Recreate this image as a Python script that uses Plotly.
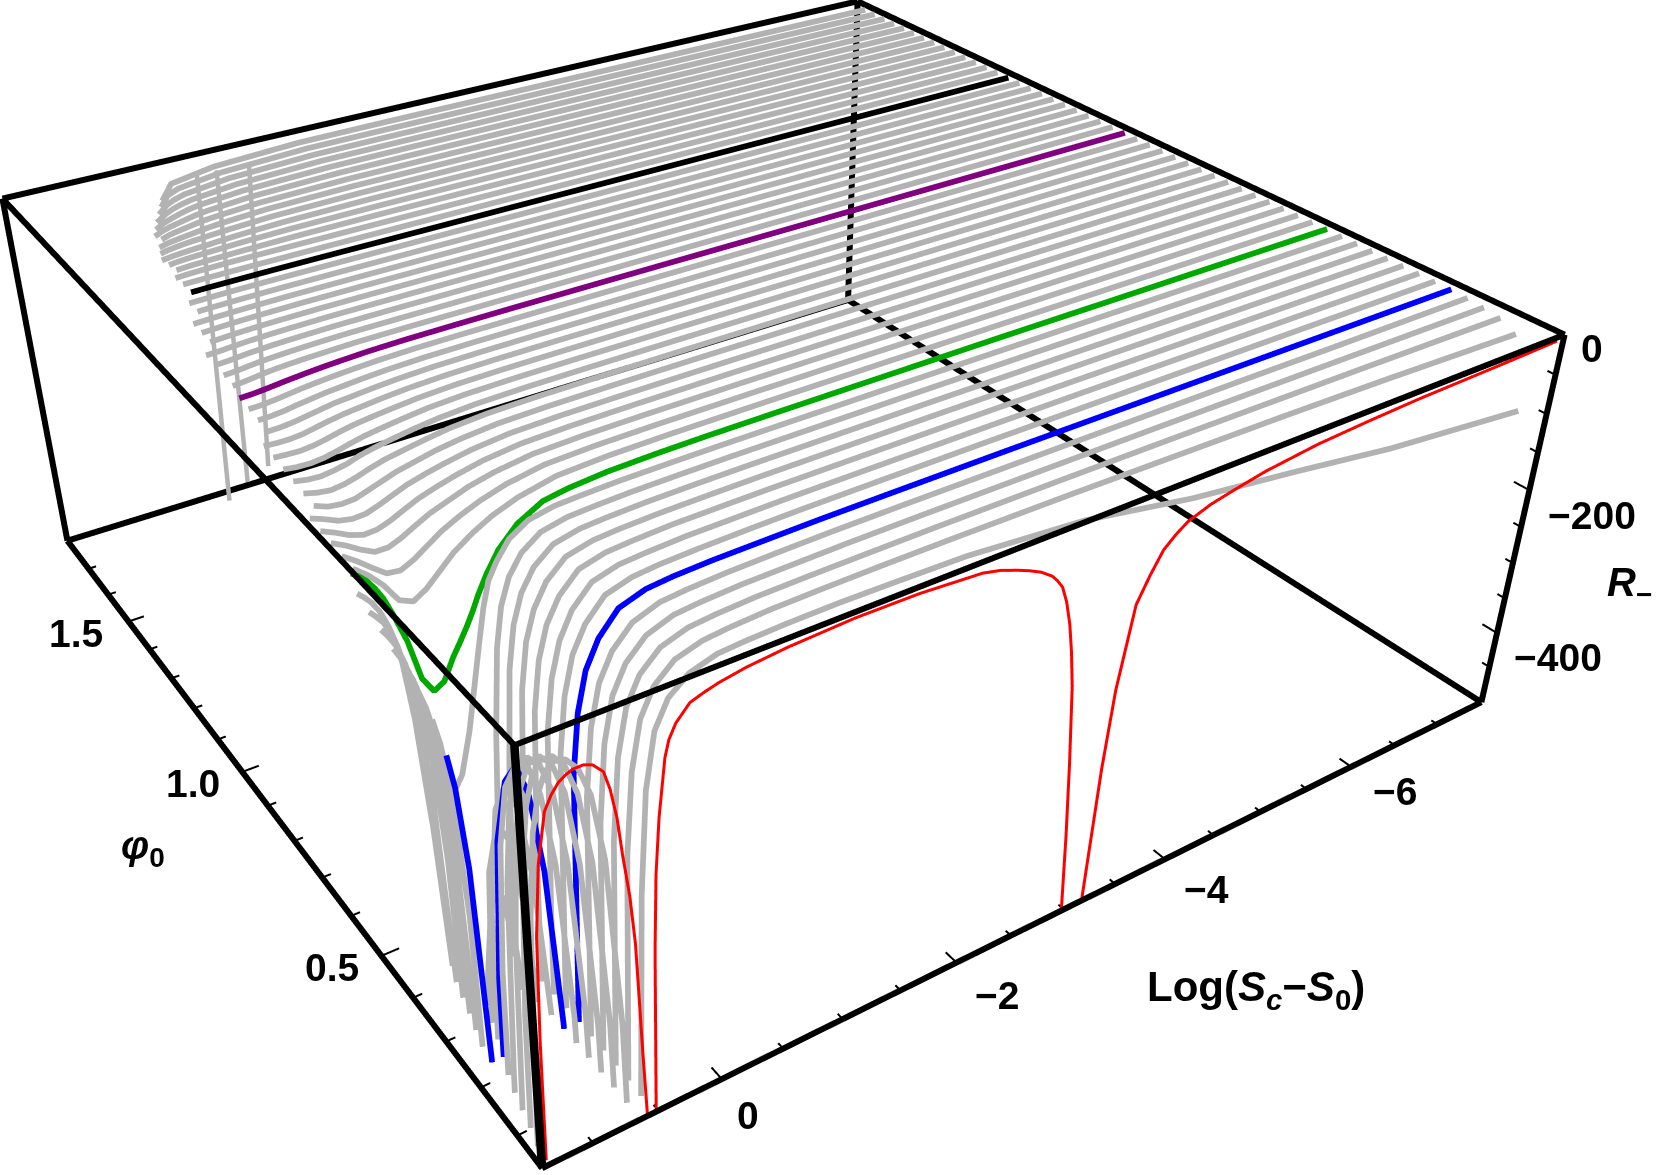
import plotly.graph_objects as go

# axis limits and view, fitted to the reference box
X_RANGE = [-7.5369, 1.3766]
PHI_RANGE = [0.0347, 1.8122]
R_RANGE = [-502.93, 0.0]
# scene ranges are a little wider than the box so its edges are not clipped
X_SCENE = [-1.4266, 7.5869]
PHI_SCENE = [0.0247, 1.8222]
R_SCENE = [-505.93, 3.0]
ASPECT = dict(x=1.01122, y=1.0068, z=0.38838)
EYE = dict(x=-0.9922, y=-1.4817, z=1.0496)
CENTER = dict(x=0.0074, y=0.0241, z=-0.0892)
UP = dict(x=0.0003, y=-0.0002, z=1.0)

# ticks
X_MINOR = [1, 0.5, -0.5, -1, -1.5, -2.5, -3, -3.5, -4.5, -5, -5.5, -6.5, -7]
X_MAJOR = [0, -2, -4, -6]
PHI_MINOR = [0.1, 0.2, 0.3, 0.4, 0.6, 0.7, 0.8, 0.9, 1.1, 1.2, 1.3, 1.4, 1.6, 1.7]
PHI_MAJOR = [0.5, 1.0, 1.5]
R_MINOR = [-50, -100, -150, -250, -300, -350, -450]
R_MAJOR = [0, -200, -400]

# red curve, the lowest phi0
RED_PHI = 0.04
RED_X = [-7.5, -7, -6.5, -6, -5.5, -5, -4.5, -4.2, -4, -3.8, -3.7, -3.6, -3.5, -3.4, -3.3, -3.25, -3.2, -3.1, -3.0, -2.97, -2.93, -2.88, -2.84, -2.8, -2.75, -2.7, -2.65, -2.6, -2.5,
         -2.4, -2.3, -2.15, -2, -1.5, -1, -0.5, -0.2, 0, 0.1, 0.2, 0.3, 0.35, 0.38, 0.43, 0.46, 0.48, 0.5, 0.53, 0.57, 0.59, 0.62, 0.65, 0.69, 0.72, 0.76, 0.8, 0.87, 0.93, 1.0, 1.05, 1.1, 1.15, 1.2, 1.26, 1.3, 1.32, 1.33]
RED_R = [-8, -10, -11.5, -13, -16, -20, -28, -36, -42, -52, -62, -75, -100, -130, -230, -330, -500, -900, -500, -400, -300, -200, -155, -120, -90, -70, -60, -52, -42,
         -35, -29, -21, -16, -11, -10, -13, -17, -22, -26, -31, -47, -62, -80, -145, -208, -300, -500, -900, -500, -420, -280, -220, -170, -125, -90, -68, -56, -52, -52, -55, -60, -70, -85, -140, -220, -345, -500]

# low phi0 curves
X_FINE = [-7.45, -6, -5, -4, -3, -2, -1.4, -1, -0.6, -0.3, -0.1, 0.1, 0.25, 0.35, 0.42, 0.47, 0.52, 0.58, 0.64, 0.72, 0.8, 0.88, 0.96, 1.04, 1.1, 1.15, 1.2, 1.25, 1.3, 1.34]
PHI_FINE = [0.0725, 0.105, 0.1375, 0.17, 0.2025, 0.235, 0.2675, 0.3, 0.3325, 0.365, 0.3975, 0.43, 0.4625, 0.495]
R_FINE = [
    [-105, -85, -65, -47, -22, -10, -8, -7, -7.5, -9, -11, -20, -38, -68, -130, -250, -520, -900, -400, -190, -110, -75, -60, -57, -65, -85, -125, -220, -480, -900],
    [-18, -12, -9, -7, -5, -4, -4, -4.5, -5.5, -8, -11, -20, -40, -70, -125, -220, -520, -900, -420, -210, -125, -88, -72, -72, -85, -115, -180, -360, -900],
    [-8, -6, -5, -4, -3.5, -3.5, -4, -4.5, -5.5, -8, -11, -21, -42, -72, -125, -220, -520, -900, -440, -230, -140, -102, -88, -92, -115, -165, -290, -600],
    [-5, -4, -3.5, -3, -3, -3, -3.5, -4.5, -5.5, -8, -11, -22, -44, -74, -125, -215, -520, -900, -450, -245, -155, -118, -105, -115, -150, -240, -480, -900],
    [-3, -3, -2.5, -2.5, -2.5, -2.5, -3, -4, -5.5, -8, -11, -22, -45, -75, -122, -200, -510, -900, -470, -265, -175, -135, -130, -150, -215, -370, -900],
    [-2, -2, -2, -2, -2, -2.5, -3, -4, -5, -7, -10, -20, -45, -75, -120, -190, -500, -900, -500, -290, -190, -152, -165, -230, -400, -900, -500, -250, -150, -110],
    [-1.5, -1.5, -1.5, -1.5, -1.5, -2, -2.5, -3.5, -5, -7, -10, -19, -43, -72, -115, -180, -450, -900, -520, -320, -225, -190, -215, -340, -750, -900, -330, -180, -115, -85],
    [-1.2, -1.2, -1.2, -1.2, -1.5, -2, -2.5, -3.5, -4.5, -7, -9.5, -18, -41, -70, -110, -170, -400, -900, -560, -370, -280, -255, -310, -560, -900, -480, -210, -130, -90, -70],
    [-1, -1, -1, -1, -1.2, -1.8, -2.2, -3, -4, -6.5, -9, -17, -39, -66, -103, -160, -340, -800, -620, -450, -370, -365, -480, -900, -560, -260, -150, -100, -72, -58],
    [-0.8, -0.8, -0.8, -0.8, -1, -1.6, -2, -2.8, -4, -6, -8.5, -16, -36, -62, -96, -150, -300, -650, -720, -590, -510, -530, -800, -800, -320, -175, -115, -82, -62, -50],
    [-0.7, -0.7, -0.7, -0.7, -0.9, -1.5, -1.9, -2.6, -3.8, -5.8, -8, -15, -33, -57, -90, -140, -260, -520, -900, -900, -900, -900, -900, -520, -240, -135, -90, -66, -52, -43],
    [-0.6, -0.6, -0.6, -0.6, -0.8, -1.4, -1.8, -2.5, -3.6, -5.5, -7.5, -14, -30, -52, -82, -128, -230, -420, -700, -800, -850, -820, -620, -320, -175, -105, -72, -54, -44, -37],
    [-0.5, -0.5, -0.5, -0.6, -0.8, -1.3, -1.7, -2.4, -3.4, -5.3, -7, -13, -27, -47, -66, -95, -135, -185, -235, -285, -305, -290, -230, -150, -105, -78, -58, -45, -36, -30],
    [-0.4, -0.4, -0.5, -0.5, -1, -1.5, -2, -3, -5, -9, -14, -30, -52, -75, -95, -112, -127, -143, -158, -183, -190, -170, -120, -85, -62, -48, -37, -29, -23],
]

# middle curves, a shallow valley near x = 0.85
X_MID = [-7.45, -5, -3, -2, -1.2, -0.7, -0.3, 0, 0.2, 0.35, 0.5, 0.62, 0.72, 0.82, 0.92, 1.02, 1.12, 1.22]
PHI_MID = [0.5275, 0.56, 0.5925, 0.625, 0.6575, 0.69, 0.7225, 0.755, 0.7875, 0.82, 0.8525, 0.885, 0.9175, 0.95, 0.9825]
R_MID = [
    [-0.4, -0.4, -0.7, -1.2, -2, -3.5, -7, -17, -28, -40, -55, -72, -86, -95, -88, -65, -48, -35],
    [-0.4, -0.4, -0.6, -1.1, -1.9, -3.2, -6, -14, -23, -32, -43, -55, -65, -72, -70, -58, -45, -34],
    [-0.3, -0.4, -0.6, -1, -1.8, -3, -5.5, -12, -19, -27, -35, -44, -52, -58, -58, -50, -40, -32],
    [-0.3, -0.3, -0.5, -0.9, -1.7, -2.8, -5, -10.5, -17, -23, -30, -38, -45, -50, -51, -46, -38, -31],
    [-0.3, -0.3, -0.5, -0.9, -1.6, -2.6, -4.6, -9.5, -15, -20, -26, -33, -39, -44, -45, -42, -35, -29],
    [-0.3, -0.3, -0.5, -0.8, -1.5, -2.4, -4.2, -8.5, -13, -18, -23, -29, -34, -39, -40, -38, -32],
    [-0.2, -0.3, -0.4, -0.8, -1.4, -2.2, -3.9, -7.5, -12, -16, -20, -25, -30, -34, -36, -34, -30],
    [-0.2, -0.2, -0.4, -0.7, -1.3, -2, -3.6, -6.8, -10.5, -14, -18, -22, -27, -30, -32, -31, -28],
    [-0.2, -0.2, -0.4, -0.7, -1.2, -1.9, -3.3, -6, -9.5, -12.5, -16, -20, -24, -27, -28.5, -28, -26],
    [-0.2, -0.2, -0.3, -0.6, -1.1, -1.7, -3, -5.5, -8.5, -11, -14, -17.5, -21, -24, -25.5, -25, -24],
    [-0.2, -0.2, -0.3, -0.6, -1, -1.6, -2.8, -5, -7.5, -10, -12.5, -15.5, -18.5, -21.5, -23, -23, -22],
    [-0.1, -0.2, -0.3, -0.5, -0.9, -1.5, -2.5, -4.5, -6.8, -9, -11, -14, -16.5, -19, -20.5, -21],
    [-0.1, -0.1, -0.3, -0.5, -0.9, -1.4, -2.3, -4, -6, -8, -10, -12.5, -14.5, -17, -18.5, -19],
    [-0.1, -0.1, -0.2, -0.4, -0.8, -1.3, -2.1, -3.6, -5.4, -7, -9, -11, -13, -15, -16.5, -17],
    [-0.1, -0.1, -0.2, -0.4, -0.7, -1.2, -1.9, -3.2, -4.8, -6.2, -8, -9.7, -11.3, -13, -14.3, -15],
]

# high phi0 curves, nearly flat, each stops earlier than the one before
X_HIGH = [-7.45, -4, -2, -1.2, -0.4, 0, 0.1, 0.17, 0.25, 0.33, 0.4, 0.47, 0.55, 0.6, 0.65, 0.72, 0.8, 0.9, 1.0]
PHI_HIGH = [1.015, 1.0475, 1.08, 1.1125, 1.145, 1.1775, 1.21, 1.2425, 1.275, 1.3075, 1.34, 1.3725, 1.405, 1.4375, 1.47, 1.5025, 1.535, 1.5675, 1.6, 1.6325, 1.665, 1.6975, 1.73, 1.7625]
R_HIGH = [
    [-0.1, -0.1, -0.3, -0.5, -1, -1.7, -2.1, -2.5, -3, -3.4, -3.8, -4.3, -5, -5.5, -6, -7, -8.5, -10.5, -12],
    [-0.1, -0.1, -0.2, -0.4, -0.9, -1.5, -1.8, -2.1, -2.5, -2.9, -3.3, -3.8, -4.4, -4.8, -5.3, -6, -7.3, -9, -10],
    [-0.1, -0.1, -0.2, -0.4, -0.8, -1.3, -1.6, -1.9, -2.2, -2.5, -2.8, -3.2, -3.7, -4.1, -4.5, -5.2, -6.2, -7.7, -8.5],
    [-0.1, -0.1, -0.2, -0.3, -0.7, -1.1, -1.4, -1.6, -1.9, -2.1, -2.4, -2.7, -3.2, -3.5, -3.8, -4.4, -5.2, -6.4, -7],
    [-0.1, -0.1, -0.2, -0.3, -0.6, -1, -1.2, -1.4, -1.6, -1.8, -2.1, -2.3, -2.7, -3, -3.3, -3.8, -4.5, -5.4],
    [-0.1, -0.1, -0.2, -0.3, -0.5, -0.9, -1, -1.2, -1.4, -1.6, -1.8, -2, -2.3, -2.5, -2.8, -3.2, -3.8, -4.5],
    [-0.1, -0.1, -0.1, -0.2, -0.5, -0.8, -0.9, -1, -1.2, -1.4, -1.5, -1.7, -2, -2.2, -2.4, -2.7, -3.2, -3.8],
    [-0.1, -0.1, -0.1, -0.2, -0.4, -0.7, -0.8, -0.9, -1, -1.2, -1.3, -1.5, -1.7, -1.9, -2, -2.3, -2.7],
    [-0.1, -0.1, -0.1, -0.2, -0.4, -0.6, -0.7, -0.8, -0.9, -1, -1.1, -1.2, -1.4, -1.6, -1.7, -2, -2.3],
    [-0.1, -0.1, -0.1, -0.2, -0.3, -0.5, -0.6, -0.7, -0.8, -0.9, -1, -1.1, -1.2, -1.3, -1.5, -1.7],
    [-0.1, -0.1, -0.1, -0.2, -0.3, -0.5, -0.5, -0.6, -0.7, -0.8, -0.9, -1, -1.1, -1.2, -1.3, -1.5],
    [-0.1, -0.1, -0.1, -0.2, -0.4, -0.6, -0.7, -0.8, -0.9, -1.1, -1.3, -1.5, -1.9, -2.2, -2.6, -3.2],
    [-0.1, -0.1, -0.2, -0.3, -1, -2, -2.3, -2.6, -3, -3.3, -3.6, -4, -4.5, -5, -5.5],
    [-0.1, -0.1, -0.3, -0.5, -1.6, -3, -3.6, -4, -4.5, -5, -5.5, -6, -6.8, -7.5, -8.5],
    [-0.1, -0.1, -0.3, -0.6, -2.2, -4.5, -5.5, -6, -7, -7.6, -8.2, -9, -10, -11, -12],
    [-0.1, -0.1, -0.3, -0.7, -2.6, -5.5, -6.5, -7.2, -8.2, -9, -10, -11.2, -13, -15],
    [-0.1, -0.1, -0.4, -0.7, -3, -6.5, -7.8, -9, -10.5, -12, -13.5, -15, -18],
    [-0.1, -0.2, -0.4, -0.8, -3.5, -7.5, -9, -10.5, -12.5, -14.5, -16.5, -20],
    [-0.1, -0.2, -0.4, -0.8, -4, -8.5, -10.5, -12.5, -15, -17.5, -20.5, -25],
    [-0.1, -0.2, -0.4, -0.9, -4.5, -9.5, -12, -14.5, -18, -22, -28],
    [-0.1, -0.2, -0.5, -0.9, -5, -11, -14, -17, -22, -30],
    [-0.1, -0.2, -0.5, -1, -5.5, -12.5, -16.5, -21, -31],
    [-0.1, -0.2, -0.5, -1, -6, -14, -20, -33],
    [-0.1, -0.2, -0.5, -1, -6.5, -16, -36],
]

# the three long drops near the far left
SPIKE_PHI = 1.74
SPIKE_X = [[-0.2, -0.08], [-0.38, -0.28], [-0.68, -0.5]]
SPIKE_R = [[-5, -485], [-5, -465], [-5, -450]]

COLORS = {0.235: "#0000ff", 0.495: "#00a800", 0.9825: "#800080", 1.3075: "#000000"}
GRAY = "#b2b2b2"
FONT = "Liberation Sans"

fig = go.Figure()


def line3d(xs, phis, rs, color, width):
    # the plot axis runs along -Log so that the view is right handed
    us = [None if x is None else -x for x in xs]
    fig.add_trace(go.Scatter3d(x=us, y=phis, z=rs, mode="lines", line=dict(color=color, width=width),
                               hoverinfo="skip", showlegend=False))


for grid, phis, rows in [(X_HIGH, PHI_HIGH, R_HIGH), (X_MID, PHI_MID, R_MID), (X_FINE, PHI_FINE, R_FINE)]:
    for phi, row in zip(phis, rows):
        line3d(grid[:len(row)], [phi] * len(row), row, COLORS.get(phi, GRAY), 11.5)

for sx, sr in zip(SPIKE_X, SPIKE_R):
    line3d(sx, [SPIKE_PHI] * 2, sr, GRAY, 9)

line3d(RED_X, [RED_PHI] * len(RED_X), RED_R, "#ff0000", 6)

# box edges
xlo, xhi = X_RANGE
plo, phi_hi = PHI_RANGE
zlo, zhi = R_RANGE
for p in PHI_RANGE:
    for z in R_RANGE:
        line3d([xlo, xhi], [p, p], [z, z], "#000000", 12)
for x in X_RANGE:
    for z in R_RANGE:
        line3d([x, x], [plo, phi_hi], [z, z], "#000000", 12)
for x, p, w in [(xhi, phi_hi, 12), (xlo, phi_hi, 12), (xlo, plo, 12), (xhi, plo, 17)]:
    line3d([x, x], [p, p], [zlo, zhi], "#000000", w)

# tick marks, inside the box as in the original
for vals, ln in [(X_MINOR, 0.012), (X_MAJOR, 0.025)]:
    for v in vals:
        line3d([v, v], [plo, plo + ln], [zlo, zlo], "#000000", 4)
for vals, ln in [(PHI_MINOR, 0.07), (PHI_MAJOR, 0.14)]:
    for v in vals:
        line3d([xhi, xhi - ln], [v, v], [zlo, zlo], "#000000", 4)
for vals, ln in [(R_MINOR, 0.015), (R_MAJOR, 0.03)]:
    for v in vals:
        line3d([xlo, xlo], [plo, plo + ln], [v, v], "#000000", 4)

annotations = []


def label(x, p, z, text, dx, dy, size=39):
    annotations.append(dict(x=-x, y=p, z=z, text=text, showarrow=False, xshift=dx, yshift=-dy,
                            font=dict(family=FONT, size=size, color="#000000")))


for v, dx, dy in zip(X_MAJOR, [26, 40, 42, 44], [36, 33, 30, 25]):
    label(v, plo, zlo, "<b>%s</b>" % str(v).replace("-", "\u2212"), dx, dy)
for v, dx, dy in zip(PHI_MAJOR, [-49, -49, -52], [12, 12, 12]):
    label(xhi, v, zlo, "<b>%.1f</b>" % v, dx, dy)
for v, dx, dy in zip(R_MAJOR, [27, 63, 61], [14, 25, 24]):
    label(xlo, plo, v, "<b>%s</b>" % str(v).replace("-", "\u2212"), dx, dy)
label(xhi, 0.9, zlo, "<b><i>\u03c6</i><sub>0</sub></b>", -125, 42, 40)
label(xlo, plo, -250, "<b><i>R</i><sub>\u2212</sub></b>", 108, 58, 40)
label(-3, plo, zlo, "<b>Log(<i>S</i><sub><i>c</i></sub>\u2212<i>S</i><sub>0</sub>)</b>", 192, 80, 42)

hidden = dict(visible=False, autorange=False)
fig.update_layout(
    width=1864, height=1831, margin=dict(l=0, r=0, t=0, b=0), paper_bgcolor="white", showlegend=False,
    scene=dict(
        domain=dict(x=[0, 1], y=[0, 1]),
        xaxis=dict(hidden, range=X_SCENE),
        yaxis=dict(hidden, range=PHI_SCENE),
        zaxis=dict(hidden, range=R_SCENE),
        aspectmode="manual", aspectratio=ASPECT,
        camera=dict(eye=EYE, center=CENTER, up=UP, projection=dict(type="perspective")),
        bgcolor="white", annotations=annotations,
    ),
)

# the scene is bigger than the window: its fixed field of view needs this size for the original's lens,
# so the page is slid to put the optical centre where the original has it
slide = ("var gd=document.getElementById('{plot_id}');gd.style.position='absolute';gd.style.left='-203px';"
         "gd.style.top='-400px';document.documentElement.style.overflow='hidden';document.body.style.overflow='hidden';")
fig.write_html("out.html", post_script=slide)
